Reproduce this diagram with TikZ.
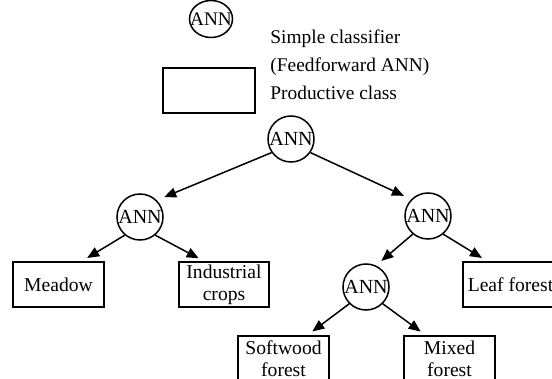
\documentclass[tikz,border=0pt]{standalone}
\usepackage{fontspec}
\setmainfont{Liberation Serif}
\usetikzlibrary{arrows.meta}
\begin{document}
\begin{tikzpicture}[x=0.5pt,y=-0.5pt,
 ann/.style={draw,circle,line width=0.75pt,inner sep=0pt,minimum size=23pt,font=\fontsize{10}{11}\selectfont},
 cls/.style={draw,rectangle,line width=0.9pt,minimum width=45.5pt,minimum height=22.5pt,inner sep=1pt,align=center,font=\fontsize{9.8}{11}\selectfont},
 leg/.style={anchor=base west,inner sep=0pt,font=\fontsize{9.7}{11}\selectfont},
 arr/.style={-{Triangle[length=6pt,width=5pt]},line width=0.75pt}]
\useasboundingbox (0,0) rectangle (552,379);
% legend
\node[inner sep=0pt,font=\fontsize{9.6}{11}\selectfont] (legann) at (211,19) {ANN};
\draw[line width=0.75pt] (legann) ellipse [x radius=21.5, y radius=18.5];
\node[cls,minimum width=46pt] (legbox) at (209,90.5) {};
\node[leg] (t1) at (270,44) {Simple classifier};
\node[leg] (t2) at (270,72) {(Feedforward ANN)};
\node[leg] (t3) at (270,100) {Productive class};
% tree
\node[ann] (top) at (291,139) {ANN};
\node[ann] (lann) at (140,217) {ANN};
\node[ann] (rann) at (428,216) {ANN};
\node[ann] (lowann) at (366,287) {ANN};
\node[cls] (meadow) at (58.5,284.5) {Meadow};
\node[cls,minimum width=45pt] (ind) at (224,284.5) {Industrial\\crops};
\node[cls,minimum width=47.5pt] (leaf) at (510.5,284.5) {Leaf forest};
\node[cls] (soft) at (283.5,358.5) {Softwood\\forest};
\node[cls] (mixed) at (449.5,358.5) {Mixed\\forest};
% arrows
\draw[arr,shorten >=4pt] (top.215) -- (lann.45);
\draw[arr,shorten >=4pt] (top.325) -- (rann.135);
\draw[arr,shorten >=3pt] (lann.230) -- ([xshift=11.75pt]meadow.north);
\draw[arr,shorten >=3pt] (lann.310) -- ([xshift=-10pt]ind.north);
\draw[arr,shorten >=3.5pt] (rann.230) -- (lowann.65);
\draw[arr,shorten >=3pt] (rann.310) -- ([xshift=12.5pt]leaf.north west);
\draw[arr,shorten >=3pt] (lowann.225) -- ([xshift=12pt]soft.north);
\draw[arr,shorten >=3pt] (lowann.315) -- ([xshift=-12pt]mixed.north);
\end{tikzpicture}
\end{document}
